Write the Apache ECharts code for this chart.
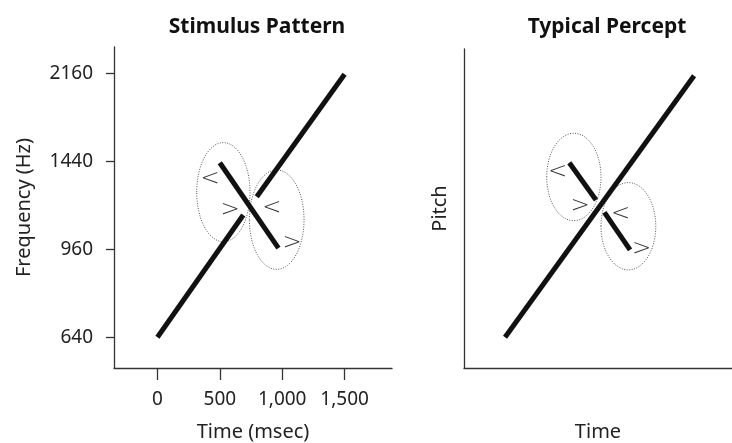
<!DOCTYPE html>
<html>
<head>
<meta charset="utf-8">
<script src="https://cdn.jsdelivr.net/npm/echarts@6/dist/echarts.min.js"></script>
<style>
html,body{margin:0;padding:0;background:#fff;}
#c{width:732px;height:443px;}
</style>
</head>
<body>
<div id="c"></div>
<script>
// ---- data (time in msec, frequency in Hz) ----
const panelTitles = ['Stimulus Pattern', 'Typical Percept'];
const xTickTimes = [0, 500, 1000, 1500];
const yTickFreqs = [640, 960, 1440, 2160];

// Stimulus pattern
const stimRiseA = [[0, 640], [688, 1124]];
const stimRiseB = [[796, 1223], [1500, 2150]];
const stimFall = [[500, 1430], [970, 965]];
// ellipses: [tLeft, tRight, fBottom, fTop]
const stimEllipses = [[315, 742, 994, 1569], [737, 1175, 875, 1383]];
// chevrons: [t, f, glyph]
const stimMarks = [[422, 1327, '<'], [582, 1150, '>'], [918, 1161, '<'], [1079, 988, '>']];

// Typical percept
const percRise = [[0, 640], [1515, 2135]];
const percFallA = [[515, 1430], [729, 1205]];
const percFallB = [[796, 1138], [1002, 957]];
const percEllipses = [[334, 769, 1095, 1638], [769, 1208, 873, 1305]];
const percMarks = [[421, 1371, '<'], [601, 1172, '>'], [926, 1129, '<'], [1094, 961, '>']];

// ---- helpers ----
const BASE = 640, RATIO = 1.5;
const toStep = f => Math.log(f / BASE) / Math.log(RATIO);
const fromStep = s => Math.round(BASE * Math.pow(RATIO, s));
const pts = arr => arr.map(p => [p[0], toStep(p[1])]);

const FONT = 'Noto Sans';
const axisColor = '#333';

function lineSeries(arr, gi) {
  return {
    type: 'line', xAxisIndex: gi, yAxisIndex: gi,
    data: pts(arr), symbol: 'none', silent: true,
    lineStyle: { color: '#111', width: 5, cap: 'butt' }, z: 5
  };
}
function ellipseSeries(arr, gi) {
  return {
    type: 'custom', xAxisIndex: gi, yAxisIndex: gi, silent: true, z: 3,
    data: arr.map(e => [e[0], e[1], toStep(e[2]), toStep(e[3])]),
    renderItem: function (params, api) {
      const a = api.coord([api.value(0), api.value(3)]);
      const b = api.coord([api.value(1), api.value(2)]);
      return {
        type: 'ellipse',
        shape: { cx: (a[0] + b[0]) / 2, cy: (a[1] + b[1]) / 2, rx: Math.abs(b[0] - a[0]) / 2, ry: Math.abs(b[1] - a[1]) / 2 },
        style: { fill: null, stroke: '#555', lineWidth: 1, lineDash: [1, 1.5] }
      };
    }
  };
}
function markSeries(arr, gi) {
  return {
    type: 'scatter', xAxisIndex: gi, yAxisIndex: gi, silent: true, z: 4,
    symbolSize: 1, itemStyle: { color: 'rgba(0,0,0,0)' },
    data: arr.map(m => ({ value: [m[0], toStep(m[1])], name: m[2] })),
    label: { show: true, position: 'inside', formatter: '{b}', fontFamily: 'DejaVu Sans', fontWeight: 200, fontSize: 23, color: '#000' }
  };
}

const axisLineStyle = { show: true, onZero: false, lineStyle: { color: axisColor, width: 1.3 } };
const nameStyle = { fontFamily: FONT, fontSize: 20, color: '#222' };
const labelBase = { fontFamily: FONT, fontSize: 19, color: '#222' };

const chart = echarts.init(document.getElementById('c'), null, { renderer: 'canvas' });
chart.setOption({
  animation: false,
  backgroundColor: '#fff',
  title: [
    { text: panelTitles[0], left: 252, top: 12, textAlign: 'center', textStyle: { fontFamily: FONT, fontWeight: 'bold', fontSize: 21, color: '#111' } },
    { text: panelTitles[1], left: 602, top: 12, textAlign: 'center', textStyle: { fontFamily: FONT, fontWeight: 'bold', fontSize: 21, color: '#111' } }
  ],
  grid: [
    { left: 114, top: 47, width: 278, height: 321, containLabel: false, outerBoundsMode: 'none' },
    { left: 464, top: 49, width: 268, height: 319, containLabel: false, outerBoundsMode: 'none' }
  ],
  xAxis: [
    {
      gridIndex: 0, type: 'value', min: -348, max: 1880,
      name: 'Time (msec)', nameLocation: 'middle', nameGap: 54, nameTextStyle: nameStyle,
      axisLine: axisLineStyle,
      axisTick: { show: true, length: 12, lineStyle: { color: axisColor, width: 1.3 }, customValues: xTickTimes },
      axisLabel: Object.assign({ show: true, margin: 22, customValues: xTickTimes,
        formatter: v => Number(v).toLocaleString('en-US') }, labelBase),
      splitLine: { show: false }
    },
    {
      gridIndex: 1, type: 'value', min: -329, max: 1819,
      name: 'Time', nameLocation: 'middle', nameGap: 54, nameTextStyle: nameStyle,
      axisLine: axisLineStyle,
      axisTick: { show: false }, axisLabel: { show: false }, splitLine: { show: false }
    }
  ],
  yAxis: [
    {
      gridIndex: 0, type: 'value', min: -0.3487, max: 3.2977,
      name: 'Frequency (Hz)', nameLocation: 'middle', nameGap: 80, nameRotate: 90, nameTextStyle: nameStyle,
      axisLine: axisLineStyle,
      axisTick: { show: true, length: 8, lineStyle: { color: axisColor, width: 1.3 }, customValues: yTickFreqs.map(toStep) },
      axisLabel: Object.assign({ show: true, margin: 21, customValues: yTickFreqs.map(toStep),
        formatter: v => String(fromStep(v)) }, labelBase),
      splitLine: { show: false }
    },
    {
      gridIndex: 1, type: 'value', min: -0.3487, max: 3.275,
      name: 'Pitch', nameLocation: 'middle', nameGap: 14, nameRotate: 90, nameTextStyle: nameStyle,
      axisLine: axisLineStyle,
      axisTick: { show: false }, axisLabel: { show: false }, splitLine: { show: false }
    }
  ],
  series: [
    lineSeries(stimRiseA, 0), lineSeries(stimRiseB, 0), lineSeries(stimFall, 0),
    ellipseSeries(stimEllipses, 0), markSeries(stimMarks, 0),
    lineSeries(percRise, 1), lineSeries(percFallA, 1), lineSeries(percFallB, 1),
    ellipseSeries(percEllipses, 1), markSeries(percMarks, 1)
  ]
});
</script>
</body>
</html>
